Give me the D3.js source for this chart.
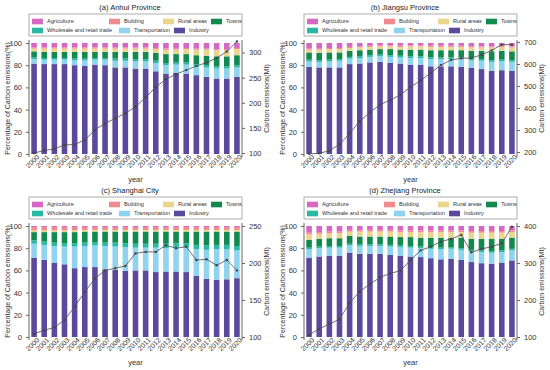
<!DOCTYPE html>
<html><head><meta charset="utf-8">
<script src="https://cdn.jsdelivr.net/npm/d3@7/dist/d3.min.js"></script>
<style>body{margin:0;background:#fff}svg{display:block}</style>
</head><body><svg id="chart" width="550" height="370"></svg>
<script>
// ---------- data ----------
const years = ["2000","2001","2002","2003","2004","2005","2006","2007","2008","2009","2010","2011","2012","2013","2014","2015","2016","2017","2018","2019","2020"];
const sectors = ["Industry","Transportation","Wholesale and retail trade","Towns","Rural areas","Building","Agriculture"];
const legendRow1 = ["Agriculture","Building","Rural areas","Towns"];
const legendRow2 = ["Wholesale and retail trade","Transportation","Industry"];
const titles = ["(a) Anhui Province","(b) Jiangsu Province","(c) Shanghai City","(d) Zhejiang Province"];

// Anhui
const anhuiIndustry  = [81.5,81,81,81,80,79.5,80.5,80,78,78,77,77,74.5,72.5,73,72.5,71,69.5,68,68,69.5];
const anhuiTransport = [4,4,4,4,4.5,5,4.5,5,6,6,6.5,6.5,7.5,7.5,7.5,8,8,8.5,9,9,8.5];
const anhuiWholesale = [1.5,1.5,1.5,1.5,1.5,1.5,1.5,1.5,2,2,2,2,2,2,2,2,2,2,2,2,2];
const anhuiTowns     = [5.5,5.5,5.5,5.5,6,6,5.5,5.5,6,6,6.5,6.5,7,8,7.5,7.5,8,8.5,9,9,9];
const anhuiRural     = [2.5,3,3,3,3,3,3,3,3,3,3,3,3.5,4,4,4.5,5,5.5,5.5,5.5,5.5];
const anhuiBuilding  = [1,1,1,1,1,1,1,1,1,1,1,1,1,1,1,1,1,1,1,1,1];
const anhuiAgri      = [4,4,4,4,4,4,4,4,4,4,4,4,4.5,5,5,4.5,5,5,5.5,5.5,4.5];
const anhuiEmission  = [100,105,108,116,117,126,146,159,169,179,192,211,231,247,257,265,273,280,289,302,322];

// Jiangsu
const jiangsuIndustry  = [78.5,78,78,78,81,81.5,82.5,83,82,81.5,80.5,80.5,79,79,79,78.5,77.5,76.5,75,75.5,75];
const jiangsuTransport = [5,5,5.5,6,5,5,5,5,5.5,5.5,6,6,6.5,6.5,6.5,7,7,7.5,8,8,8];
const jiangsuWholesale = [1.5,1.5,1.5,1.5,1.5,1.5,1.5,1.5,1.5,1.5,1.5,1.5,1.5,1.5,1.5,1.5,1.5,1.5,1.5,1.5,1.5];
const jiangsuTowns     = [6.5,6.5,6.5,6,5.5,5.5,5,5,5.5,5.5,6,6,6.5,6.5,6.5,6.5,7,7.5,8,8,8];
const jiangsuRural     = [2.5,3,3,3,2.5,2.5,2.5,2.5,2.5,2.5,3,3,3,3,3,3,3,3,3.5,3.5,3.5];
const jiangsuBuilding  = [1,1,1,1,1,1,1,1,1,1,1,1,1,1,1,1,1,1,1,1,1];
const jiangsuAgri      = [5,5,4.5,4.5,3.5,3,2.5,2,2,2.5,2,2,2.5,2.5,2.5,2.5,3,3,3,2.5,3];
const jiangsuEmission  = [192,194,206,235,285,340,380,415,436,460,495,525,560,595,618,626,627,642,662,688,688];

// Shanghai
const shanghaiIndustry  = [71.5,69.5,67,65.5,62,63,63,61,60.5,59.5,60,60,58.5,59,59,58.5,55,52.5,51.5,52,53];
const shanghaiTransport = [12.5,13.5,15,16,19.5,19,19.5,21,21,21.5,20.5,20.5,22,21,21.5,22,24,26,27.5,27,25];
const shanghaiWholesale = [3,3,3,3,3,3,3,3,3.5,3.5,3.5,3.5,3.5,4,4,4,4,4,4,4,4];
const shanghaiTowns     = [7.5,8.5,9.5,10,10,10,9.5,10,10,10.5,11,11,11,11,10.5,10.5,12,12.5,12,12,13];
const shanghaiRural     = [1.5,1.5,1.5,1.5,1.5,1.5,1.5,1.5,1.5,1.5,1.5,1.5,1.5,1.5,1.5,1.5,1.5,1.5,1.5,1.5,1.5];
const shanghaiBuilding  = [3,3,3,3,3,2.5,2.5,2.5,2.5,2.5,2.5,2.5,2.5,2.5,2.5,2.5,2.5,2.5,2.5,2.5,2.5];
const shanghaiAgri      = [1,1,1,1,1,1,1,1,1,1,1,1,1,1,1,1,1,1,1,1,1];
const shanghaiEmission  = [104.5,109,113,123,141,161,179,190,193,196,213,215,215,224,220,222,204,205,197,204,190];

// Zhejiang
const zhejiangIndustry  = [71.5,72.5,73,73,76,75,75,75,74,73,72.5,72,71,70,70.5,69.5,67.5,66.5,66,67,69];
const zhejiangTransport = [7.5,7.5,7.5,7.5,6.5,7,7,7,7.5,8,8,8,8.5,9,9,9,9.5,10,10,9.5,9];
const zhejiangWholesale = [1.5,1.5,1.5,1.5,1.5,1.5,1.5,1.5,1.5,1.5,1.5,1.5,1.5,1.5,1.5,1.5,1.5,1.5,1.5,1.5,1.5];
const zhejiangTowns     = [7,7,7,7,7,7,7,7,7.5,7.5,8,8,8.5,9,8.5,9.5,10,10.5,11,10.5,10];
const zhejiangRural     = [5,4.5,4.5,4.5,4,4.5,4.5,4.5,4.5,4.5,4.5,5,5,5,5,5,5.5,5.5,5.5,5.5,5];
const zhejiangBuilding  = [1.5,1.5,1.5,1.5,1.5,1.5,1.5,1.5,1.5,1.5,1.5,1.5,1.5,1.5,1.5,1.5,1.5,1.5,1.5,1.5,1.5];
const zhejiangAgri      = [6,5.5,5,5,3.5,3.5,3.5,3.5,3.5,4,4,4,4,4,4,4,4.5,4.5,4.5,4.5,4];
const zhejiangEmission  = [106,122,135,148,192,223,243,261,272,279,308,334,344,358,365,376,329,338,344,353,398];

const leftTicks = [0,20,40,60,80,100];
const rightTicks = [[100,150,200,250,300],[200,300,400,500,600,700],[100,150,200,250],[100,200,300,400]];
const rightDomains = [[98,319],[191,695.5],[100,250],[100,400]];

// ---------- style ----------
const colors = {
  "Industry":"#5b4a9c",
  "Transportation":"#8fd3ef",
  "Wholesale and retail trade":"#27b9a6",
  "Towns":"#12894f",
  "Rural areas":"#ead58c",
  "Building":"#ef8a8e",
  "Agriculture":"#d667c2"
};
const font = "'Liberation Sans', Arial, sans-serif";

const panels = [
  {ox:0,   oy:0,   series:[anhuiIndustry,anhuiTransport,anhuiWholesale,anhuiTowns,anhuiRural,anhuiBuilding,anhuiAgri], em:anhuiEmission},
  {ox:275, oy:0,   series:[jiangsuIndustry,jiangsuTransport,jiangsuWholesale,jiangsuTowns,jiangsuRural,jiangsuBuilding,jiangsuAgri], em:jiangsuEmission},
  {ox:0,   oy:183, series:[shanghaiIndustry,shanghaiTransport,shanghaiWholesale,shanghaiTowns,shanghaiRural,shanghaiBuilding,shanghaiAgri], em:shanghaiEmission},
  {ox:275, oy:183, series:[zhejiangIndustry,zhejiangTransport,zhejiangWholesale,zhejiangTowns,zhejiangRural,zhejiangBuilding,zhejiangAgri], em:zhejiangEmission}
];

const svg = d3.select("#chart");
const L = 29, R = 242, T = 43, B = 154;

panels.forEach((p, pi) => {
  const g = svg.append("g").attr("transform", `translate(${p.ox},${p.oy})`);
  const rows = years.map((y, i) => {
    const o = {year: y};
    sectors.forEach((s, k) => o[s] = p.series[k][i]);
    return o;
  });
  const x = d3.scaleBand().domain(years).range([L, R]).paddingInner(0.45).paddingOuter(0.225);
  const yL = d3.scaleLinear().domain([0, 100]).range([B, T]);
  const yR = d3.scaleLinear().domain(rightDomains[pi]).range([B, T]);
  const stack = d3.stack().keys(sectors)(rows);

  // bars
  g.selectAll("g.layer").data(stack).join("g").attr("class","layer")
    .attr("fill", d => colors[d.key])
    .selectAll("rect").data(d => d).join("rect")
    .attr("x", d => x(d.data.year))
    .attr("width", x.bandwidth())
    .attr("y", d => yL(d[1]))
    .attr("height", d => yL(d[0]) - yL(d[1]));

  // line
  const line = d3.line().x((d, i) => x(years[i]) + x.bandwidth()/2).y(d => yR(d));
  g.append("path").datum(p.em).attr("d", line)
    .attr("fill","none").attr("stroke","#555").attr("stroke-width",1).attr("stroke-opacity",0.85);
  g.selectAll("circle.pt").data(p.em).join("circle").attr("class","pt")
    .attr("cx", (d, i) => x(years[i]) + x.bandwidth()/2).attr("cy", d => yR(d))
    .attr("r", 1.2).attr("fill","#444");

  // left axis
  const ax = g.append("g").attr("transform", `translate(${L},0)`)
    .call(d3.axisLeft(yL).tickValues(leftTicks).tickSize(3).tickSizeOuter(0));
  // right axis
  const ar = g.append("g").attr("transform", `translate(${R},0)`)
    .call(d3.axisRight(yR).tickValues(rightTicks[pi]).tickSize(3).tickSizeOuter(0));
  [ax, ar].forEach(a => {
    a.select(".domain").remove();
    a.selectAll("line").attr("stroke","#666");
    a.selectAll("text").attr("font-family", font).attr("font-size", 7.5).attr("fill","#333");
  });
  ax.selectAll("text").attr("dx", -1);
  ar.selectAll("text").attr("dx", 1);
  g.append("line").attr("x1",L).attr("x2",L).attr("y1",T-3).attr("y2",B+3).attr("stroke","#666").attr("stroke-width",1);
  g.append("line").attr("x1",R).attr("x2",R).attr("y1",T-3).attr("y2",B+3).attr("stroke","#666").attr("stroke-width",1);

  // bottom axis (labels only)
  const ab = g.append("g").attr("transform", `translate(0,${B})`)
    .call(d3.axisBottom(x).tickSize(0));
  ab.select(".domain").remove();
  ab.selectAll("text")
    .attr("font-family", font).attr("font-size", 7).attr("fill","#333")
    .attr("text-anchor","end")
    .attr("transform","rotate(-45)")
    .attr("dx", "0.2em").attr("dy", "0.5em").attr("y", 3);

  // axis titles
  g.append("text").attr("x", (L+R)/2).attr("y", 182).attr("text-anchor","middle")
    .attr("font-family", font).attr("font-size", 7.5).attr("fill","#333").text("year");
  g.append("text").attr("transform", `translate(10,${(T+B)/2}) rotate(-90)`).attr("text-anchor","middle")
    .attr("font-family", font).attr("font-size", 7).attr("fill","#333").text("Percentage of Carbon emissions(%)");
  g.append("text").attr("transform", `translate(269,${(T+B)/2}) rotate(-90)`).attr("text-anchor","middle")
    .attr("font-family", font).attr("font-size", 7).attr("fill","#333").text("Carbon emissions(Mt)");

  // title
  g.append("text").attr("x", 130).attr("y", 10).attr("text-anchor","middle")
    .attr("font-family", font).attr("font-size", 7.5).attr("fill","#222").text(titles[pi]);

  // legend
  const lg = g.append("g");
  lg.append("rect").attr("x", L).attr("y", 14).attr("width", R-L).attr("height", 22)
    .attr("fill","#fff").attr("stroke","#999").attr("stroke-width",0.8);
  const row1X = [32,109,163,211], row2X = [32,119,174];
  [[legendRow1,row1X,21.5],[legendRow2,row2X,30.5]].forEach(([names, xs, cy]) => {
    names.forEach((n, i) => {
      lg.append("rect").attr("x", xs[i]).attr("y", cy-2.8).attr("width", 11).attr("height", 5.6).attr("fill", colors[n]);
      lg.append("text").attr("x", xs[i]+15).attr("y", cy).attr("dy","0.35em")
        .attr("font-family", font).attr("font-size", 5.6).attr("fill","#333").text(n);
    });
  });
});
</script>
</body></html>
